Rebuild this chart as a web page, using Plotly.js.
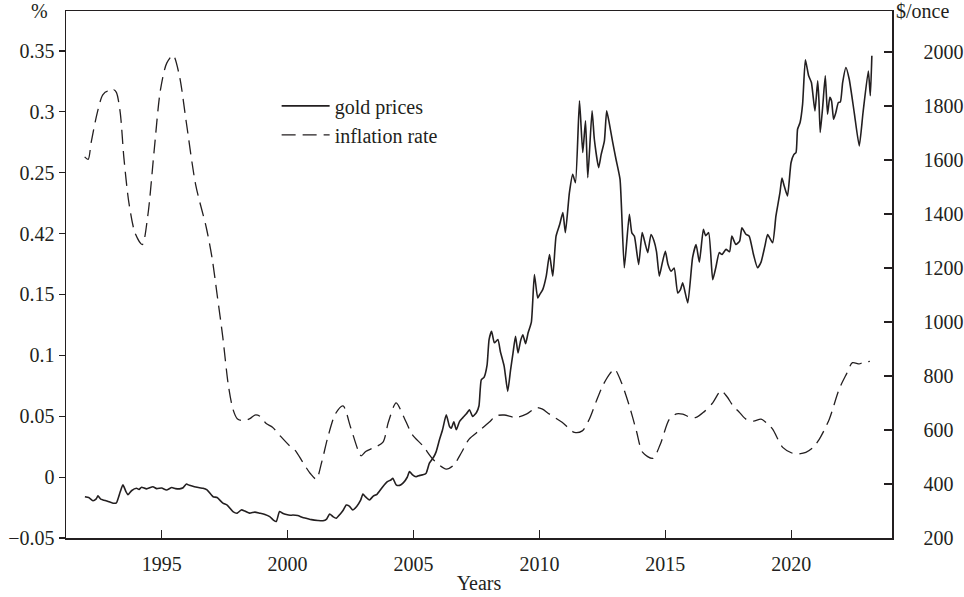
<!DOCTYPE html>
<html>
<head>
<meta charset="utf-8">
<script src="https://cdn.plot.ly/plotly-3.0.1.min.js"></script>
<style>html,body{margin:0;padding:0;background:#fff;}#chart{width:964px;height:597px;}</style>
</head>
<body>
<div id="chart"></div>
<script>
// Gold prices ($/once), right axis
const goldYears = [1991.95,1992.1,1992.27,1992.4,1992.47,1992.58,1992.67,1992.85,1993.07,1993.2,1993.35,1993.46,1993.58,1993.66,1993.8,1994.0,1994.1,1994.2,1994.4,1994.65,1994.8,1995.0,1995.19,1995.4,1995.55,1995.71,1995.85,1995.98,1996.1,1996.3,1996.5,1996.64,1996.8,1997.04,1997.2,1997.43,1997.6,1997.83,1998.0,1998.16,1998.3,1998.49,1998.7,1998.89,1999.1,1999.29,1999.45,1999.55,1999.68,1999.8,1999.95,2000.1,2000.21,2000.4,2000.6,2000.74,2000.95,2001.2,2001.4,2001.55,2001.67,2001.8,2001.93,2002.1,2002.2,2002.33,2002.45,2002.59,2002.75,2002.9,2002.99,2003.1,2003.25,2003.4,2003.55,2003.78,2003.95,2004.1,2004.18,2004.31,2004.45,2004.6,2004.75,2004.84,2004.95,2005.1,2005.25,2005.37,2005.5,2005.63,2005.8,2005.9,2006.03,2006.15,2006.3,2006.43,2006.5,2006.6,2006.7,2006.83,2006.95,2007.1,2007.22,2007.35,2007.5,2007.6,2007.69,2007.8,2007.92,2008.0,2008.1,2008.21,2008.35,2008.45,2008.6,2008.74,2008.85,2008.95,2009.05,2009.15,2009.25,2009.34,2009.45,2009.55,2009.68,2009.8,2009.93,2010.0,2010.13,2010.27,2010.4,2010.53,2010.66,2010.8,2010.93,2011.03,2011.19,2011.32,2011.43,2011.59,2011.72,2011.83,2011.92,2012.09,2012.18,2012.35,2012.45,2012.58,2012.67,2012.78,2012.91,2013.04,2013.2,2013.37,2013.57,2013.67,2013.77,2013.94,2014.08,2014.2,2014.3,2014.43,2014.55,2014.65,2014.76,2014.88,2015.0,2015.1,2015.23,2015.35,2015.49,2015.6,2015.69,2015.89,2016.08,2016.22,2016.35,2016.51,2016.6,2016.72,2016.88,2017.0,2017.14,2017.25,2017.41,2017.55,2017.64,2017.8,2017.95,2018.04,2018.2,2018.33,2018.5,2018.66,2018.8,2018.95,2019.06,2019.26,2019.39,2019.55,2019.63,2019.72,2019.85,2019.99,2020.1,2020.19,2020.25,2020.35,2020.45,2020.56,2020.69,2020.8,2020.94,2021.05,2021.1,2021.15,2021.25,2021.35,2021.44,2021.53,2021.6,2021.68,2021.77,2021.87,2021.95,2022.04,2022.17,2022.3,2022.5,2022.7,2022.85,2023.06,2023.14,2023.2];
const goldPrices = [353,350,338,345,356,344,341,336,329,330,370,397,372,360,375,384,380,388,382,390,383,385,378,387,383,382,386,400,395,390,386,384,378,353,350,329,322,298,292,304,300,292,296,292,287,279,265,261,298,292,287,284,285,283,276,273,268,265,264,270,289,279,273,290,302,322,318,304,318,340,363,352,341,355,362,390,408,415,421,397,395,405,425,446,435,427,432,434,440,477,500,520,564,600,656,613,607,630,601,632,645,660,675,650,665,690,786,795,840,935,966,923,935,890,836,743,820,885,947,885,930,953,920,960,1000,1176,1089,1100,1120,1170,1250,1170,1318,1360,1405,1331,1479,1547,1516,1819,1628,1745,1535,1782,1677,1572,1620,1671,1782,1733,1665,1603,1529,1201,1399,1330,1318,1213,1331,1290,1257,1324,1300,1260,1170,1220,1262,1215,1188,1200,1108,1120,1145,1071,1238,1287,1222,1343,1320,1331,1157,1200,1257,1250,1269,1260,1318,1287,1300,1349,1325,1318,1250,1201,1222,1280,1324,1294,1392,1479,1533,1504,1467,1590,1620,1628,1714,1739,1807,1971,1912,1887,1782,1893,1819,1702,1800,1912,1770,1832,1819,1751,1776,1813,1815,1887,1943,1900,1776,1652,1776,1930,1838,1986];

// Inflation rate (%), left axis
const inflYears = [1991.94,1992.08,1992.2,1992.45,1992.66,1992.85,1993.0,1993.1,1993.2,1993.35,1993.5,1993.7,1993.95,1994.23,1994.45,1994.7,1994.95,1995.2,1995.45,1995.7,1995.98,1996.35,1996.77,1997.0,1997.2,1997.42,1997.65,1997.83,1998.0,1998.23,1998.5,1998.7,1998.9,1999.15,1999.4,1999.7,2000.08,2000.3,2000.6,2000.9,2001.14,2001.35,2001.6,2001.9,2002.2,2002.5,2002.8,2002.92,2003.1,2003.4,2003.78,2004.0,2004.31,2004.6,2004.95,2005.37,2005.8,2006.3,2006.6,2006.9,2007.2,2007.6,2008.0,2008.28,2008.6,2009.07,2009.5,2009.87,2010.1,2010.4,2010.9,2011.39,2011.7,2011.98,2012.25,2012.51,2012.8,2012.98,2013.25,2013.57,2013.85,2014.1,2014.5,2014.8,2015.16,2015.45,2015.69,2016.0,2016.22,2016.5,2016.88,2017.21,2017.45,2017.67,2017.95,2018.2,2018.5,2018.8,2019.05,2019.26,2019.66,2020.0,2020.19,2020.58,2020.85,2021.11,2021.51,2021.9,2022.2,2022.43,2022.7,2022.83,2023.12];
const inflRates = [0.263,0.261,0.275,0.300,0.314,0.317,0.316,0.318,0.316,0.300,0.262,0.225,0.200,0.191,0.215,0.268,0.318,0.340,0.3465,0.330,0.291,0.240,0.205,0.180,0.150,0.116,0.075,0.0558,0.048,0.0462,0.048,0.051,0.050,0.044,0.041,0.034,0.0257,0.022,0.0123,0.003,-0.0016,0.012,0.033,0.052,0.0585,0.041,0.022,0.0175,0.021,0.024,0.0285,0.045,0.061,0.050,0.035,0.0257,0.014,0.0066,0.010,0.020,0.031,0.038,0.045,0.0503,0.051,0.049,0.052,0.057,0.056,0.0517,0.045,0.0367,0.038,0.0476,0.062,0.075,0.085,0.0887,0.078,0.0585,0.038,0.0203,0.0154,0.027,0.0476,0.052,0.0517,0.049,0.049,0.053,0.061,0.0709,0.066,0.0591,0.053,0.0476,0.046,0.0476,0.044,0.0394,0.0244,0.020,0.0189,0.0203,0.024,0.031,0.0476,0.0722,0.085,0.094,0.093,0.094,0.095];

const xTickVals = [1995,2000,2005,2010,2015,2020];
const yTickVals = [-0.05,0,0.05,0.1,0.15,0.2,0.25,0.3,0.35];
const yTickText = ["\u22120.05","0","0.05","0.1","0.15","0.42","0.25","0.3","0.35"];
const y2TickVals = [200,400,600,800,1000,1200,1400,1600,1800,2000];
const y2TickText = ["200","400","600","800","1000","1200","1400","1600","1800","2000"];

const ink = "#231f20";
const font = {family: "'Liberation Serif', 'Times New Roman', serif", size: 20, color: ink};

const traces = [
  {x: goldYears, y: goldPrices, yaxis: "y2", type: "scatter", mode: "lines", name: "gold prices",
   line: {color: ink, width: 1.6, shape: "spline", smoothing: 0.5}},
  {x: inflYears, y: inflRates, yaxis: "y", type: "scatter", mode: "lines", name: "inflation rate",
   line: {color: ink, width: 1.3, dash: "14px,7px", shape: "spline", smoothing: 0.8}}
];

const layout = {
  width: 964, height: 597,
  margin: {l: 66, r: 72, t: 11, b: 59},
  paper_bgcolor: "#fff", plot_bgcolor: "#fff",
  font: font,
  showlegend: true,
  legend: {x: 0.255, y: 0.857, xanchor: "left", yanchor: "top", bgcolor: "rgba(0,0,0,0)",
           font: font, itemwidth: 48, tracegroupgap: 0},
  xaxis: {range: [1991.2, 2024.0], tickvals: xTickVals, ticktext: xTickVals.map(String),
          ticks: "inside", ticklen: 8, tickwidth: 1.2, tickcolor: ink,
          showline: true, linecolor: ink, linewidth: 1.5, mirror: true,
          showgrid: false, zeroline: false, tickfont: font, ticklabelstandoff: 7,
          title: {text: "Years", font: font, standoff: 2}},
  yaxis: {range: [-0.05, 0.3828], tickvals: yTickVals, ticktext: yTickText,
          ticks: "outside", ticklen: 6, tickwidth: 1.2, tickcolor: ink,
          showline: true, linecolor: ink, linewidth: 1.5,
          showgrid: false, zeroline: false, tickfont: font},
  yaxis2: {range: [200, 2152], tickvals: y2TickVals, ticktext: y2TickText,
           overlaying: "y", side: "right", anchor: "x",
           ticks: "inside", ticklen: 8, tickwidth: 1.2, tickcolor: ink,
           showline: true, linecolor: ink, linewidth: 1.5,
           showgrid: false, zeroline: false, tickfont: font, ticklabelstandoff: 26},
  annotations: [
    {text: "%", xref: "paper", yref: "paper", x: -0.032, y: 1.0, xanchor: "center", yanchor: "middle",
     showarrow: false, font: font},
    {text: "$/once", xref: "paper", yref: "paper", x: 1.003, y: 1.0, xanchor: "left", yanchor: "middle",
     showarrow: false, font: font}
  ]
};

Plotly.newPlot("chart", traces, layout, {displayModeBar: false, staticPlot: true});
</script>
</body>
</html>
